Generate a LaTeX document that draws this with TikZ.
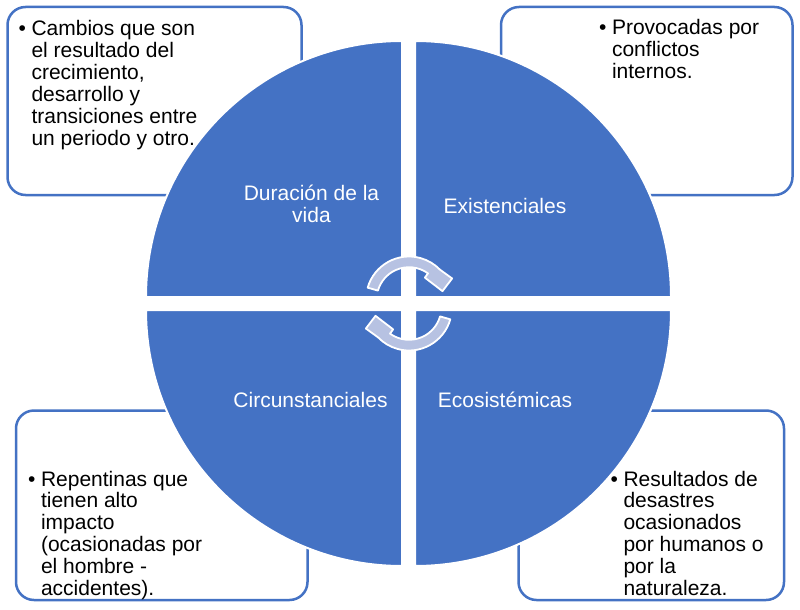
\documentclass[tikz,border=0pt]{standalone}
\usepackage{fontspec}
\setmainfont{Liberation Sans}
\definecolor{qblue}{HTML}{4472C4}
\definecolor{arrowfill}{HTML}{B7C2E2}
\begin{document}
\begin{tikzpicture}[x=1pt,y=-1pt,
  box/.style={draw=qblue, line width=2.5pt, fill=white, rounded corners=18pt, inner sep=0pt},
  quad/.style={fill=qblue, draw=white, line width=2pt},
  cyc/.style={fill=arrowfill, draw=white, line width=1.8pt, line join=round},
  itemtext/.style={anchor=base west, inner sep=0pt, font=\fontsize{21}{21.9}\selectfont, text=black},
  lbl/.style={anchor=base, inner sep=0pt, font=\fontsize{21}{22.5}\selectfont, text=white}]
\useasboundingbox (0,0) rectangle (800,610);
\fill[white] (0,0) rectangle (800,610);
% outer boxes
\node[box, minimum width=294pt, minimum height=188pt] (tlbox) at (154.5,101) {};
\node[box, minimum width=291.5pt, minimum height=188pt] (trbox) at (646.75,101) {};
\node[box, minimum width=291.5pt, minimum height=189.5pt] (blbox) at (161.75,505.25) {};
\node[box, minimum width=265.5pt, minimum height=189.5pt] (brbox) at (651.25,505.25) {};
% quadrants
\path[quad] (402,297) -- ++(180:256) arc[start angle=180, end angle=270, radius=256] -- cycle;
\path[quad] (415,297) -- ++(270:256) arc[start angle=270, end angle=360, radius=256] -- cycle;
\path[quad] (415,310) -- ++(0:256) arc[start angle=0, end angle=90, radius=256] -- cycle;
\path[quad] (402,310) -- ++(90:256) arc[start angle=90, end angle=180, radius=256] -- cycle;
% cycle arrows
\begin{scope}[shift={(409,299.5)}]
\path[cyc] (196:43) arc[start angle=196, end angle=316, radius=43] -- (334:48) -- (346:34.5) -- (306:27) -- (306:32.3) arc[start angle=306, end angle=196, radius=32.3] -- cycle;
\end{scope}
\begin{scope}[shift={(409,307.5)}]
\path[cyc] (16:43) arc[start angle=16, end angle=136, radius=43] -- (154:48) -- (166:34.5) -- (126:27) -- (126:32.3) arc[start angle=126, end angle=16, radius=32.3] -- cycle;
\end{scope}
% quadrant labels
\node[lbl] (duracion) at (311.5,200) {\begin{tabular}[t]{@{}c@{}}Duración de la\\vida\end{tabular}};
\node[lbl] (existenciales) at (505,213) {Existenciales};
\node[lbl] (circunstanciales) at (310.5,407) {Circunstanciales};
\node[lbl] (ecosistemicas) at (505,407) {Ecosistémicas};
% box texts
\node[itemtext] (tltext) at (18.5,36) {\begin{tabular}[t]{@{}l@{\hspace{5.5pt}}l@{}}\textbullet & Cambios que son\\ & el resultado del\\ & crecimiento,\\ & desarrollo y\\ & transiciones entre\\ & un periodo y otro.\end{tabular}};
\node[itemtext] (trtext) at (599,35) {\begin{tabular}[t]{@{}l@{\hspace{5.5pt}}l@{}}\textbullet & Provocadas por\\ & conflictos\\ & internos.\end{tabular}};
\node[itemtext] (bltext) at (28,486) {\begin{tabular}[t]{@{}l@{\hspace{5.5pt}}l@{}}\textbullet & Repentinas que\\ & tienen alto\\ & impacto\\ & (ocasionadas por\\ & el hombre -\\ & accidentes).\end{tabular}};
\node[itemtext] (brtext) at (610.5,486) {\begin{tabular}[t]{@{}l@{\hspace{5.5pt}}l@{}}\textbullet & Resultados de\\ & desastres\\ & ocasionados\\ & por humanos o\\ & por la\\ & naturaleza.\end{tabular}};
\end{tikzpicture}
\end{document}
